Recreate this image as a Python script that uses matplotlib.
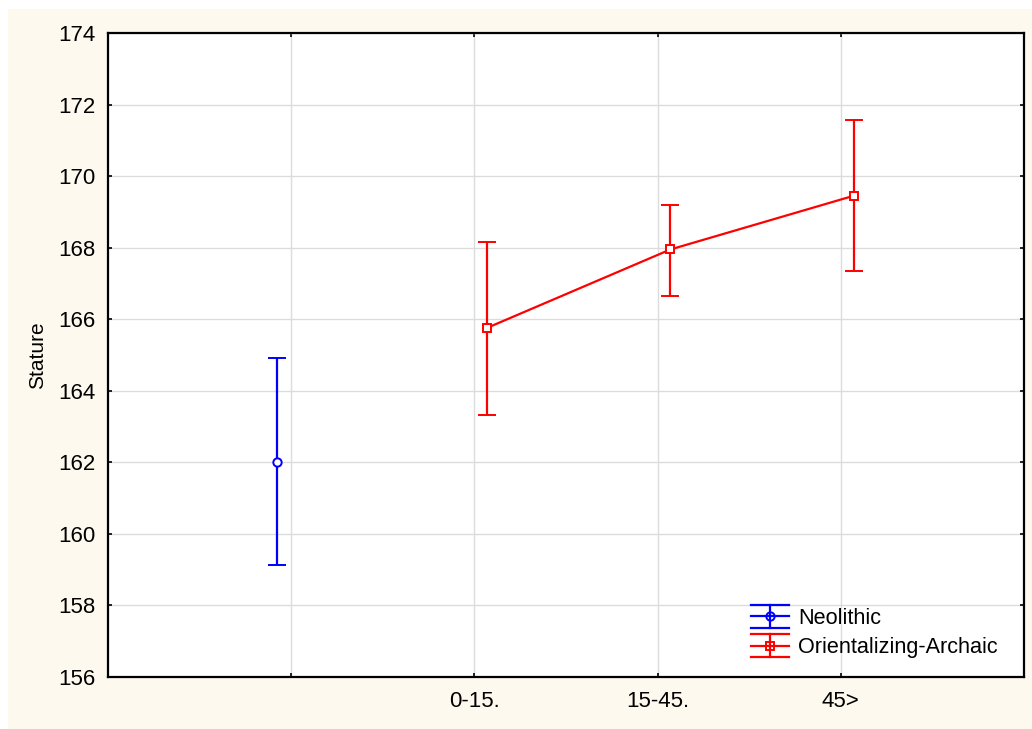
import matplotlib.pyplot as plt
from matplotlib.legend_handler import HandlerBase
from matplotlib.lines import Line2D
from matplotlib.patches import Rectangle
import numpy as np

# group means with upper / lower limits of the error bars
CATEGORIES = ["", "0-15.", "15-45.", "45>"]

NEO_POS = [1]
NEO_MEAN = [162.0]
NEO_UPPER = [164.92]
NEO_LOWER = [159.12]

OA_POS = [2, 3, 4]
OA_MEAN = [165.76, 167.95, 169.45]
OA_UPPER = [168.16, 169.20, 171.57]
OA_LOWER = [163.32, 166.65, 167.36]


class WideCapHandler(HandlerBase):
    """Legend key: three full-width bars, a vertical stem and the marker."""

    def __init__(self, color, marker):
        super().__init__()
        self.color = color
        self.marker = marker

    def create_artists(self, legend, orig_handle, xdescent, ydescent,
                       width, height, fontsize, trans):
        cx = width / 2 - xdescent
        cy = height / 2 - ydescent
        dy = height * 0.76
        arts = []
        for yy in (cy - dy, cy, cy + dy):
            arts.append(Line2D([-xdescent, width - xdescent], [yy, yy],
                               color=self.color, lw=1.6, transform=trans))
        arts.append(Line2D([cx, cx], [cy - dy, cy + dy], color=self.color,
                           lw=1.6, transform=trans))
        arts.append(Line2D([cx], [cy], marker=self.marker, color=self.color,
                           mfc="none", mec=self.color, mew=1.4, ms=6,
                           transform=trans))
        return arts


def main():
    plt.rcParams.update({
        "font.family": ["Liberation Sans", "DejaVu Sans"],
        "font.size": 16,
    })

    fig = plt.figure(figsize=(10.32, 7.29), dpi=100)
    fig.patch.set_facecolor("white")
    fig.patches.append(Rectangle((8 / 1032, 0), 1 - 8 / 1032, 1 - 9 / 729,
                                 transform=fig.transFigure,
                                 facecolor="#fdf9ee", edgecolor="none",
                                 zorder=-10))

    ax = fig.add_axes([108 / 1032, 52 / 729, 916 / 1032, 644 / 729])
    ax.set_facecolor("white")

    neo_x = np.array(NEO_POS) - 0.075
    oa_x = np.array(OA_POS) + 0.07

    neo_mean = np.array(NEO_MEAN)
    neo_err = [neo_mean - np.array(NEO_LOWER), np.array(NEO_UPPER) - neo_mean]
    oa_mean = np.array(OA_MEAN)
    oa_err = [oa_mean - np.array(OA_LOWER), np.array(OA_UPPER) - oa_mean]

    blue = "#0000ff"
    red = "#ff0000"

    neo = ax.errorbar(neo_x, neo_mean, yerr=neo_err, fmt="o", color=blue,
                      mfc="white", mec=blue, mew=1.4, ms=6, lw=1.6,
                      elinewidth=1.6, capsize=6.8, capthick=1.6, zorder=4)
    oa = ax.errorbar(oa_x, oa_mean, yerr=oa_err, fmt="s-", color=red,
                     mfc="white", mec=red, mew=1.4, ms=6, lw=1.6,
                     elinewidth=1.6, capsize=6.5, capthick=1.6, zorder=4)

    ax.set_xlim(0, 5)
    ax.set_ylim(156, 174)
    ax.set_xticks(range(1, 5))
    ax.set_xticklabels(CATEGORIES)
    ax.set_yticks(np.arange(156, 175, 2))
    ax.set_ylabel("Stature", fontsize=15, labelpad=8)

    ax.grid(True, color="#dcdcdc", lw=1.0, zorder=0)
    ax.set_axisbelow(True)
    ax.tick_params(direction="in", length=3, width=1.2, top=True, right=True,
                   pad=9, labelsize=16, colors="black")
    ax.tick_params(axis="x", pad=10)
    for sp in ax.spines.values():
        sp.set_linewidth(1.6)
        sp.set_color("black")

    ax.legend([neo, oa], ["Neolithic", "Orientalizing-Archaic"],
              handler_map={neo: WideCapHandler(blue, "o"),
                           oa: WideCapHandler(red, "s")},
              loc="lower right", bbox_to_anchor=(0.993, -0.001),
              frameon=False, fontsize=15.6, handlelength=1.75,
              handletextpad=0.45, labelspacing=0.38)

    fig.savefig("out.png", dpi=100, facecolor=fig.get_facecolor())


if __name__ == "__main__":
    main()
